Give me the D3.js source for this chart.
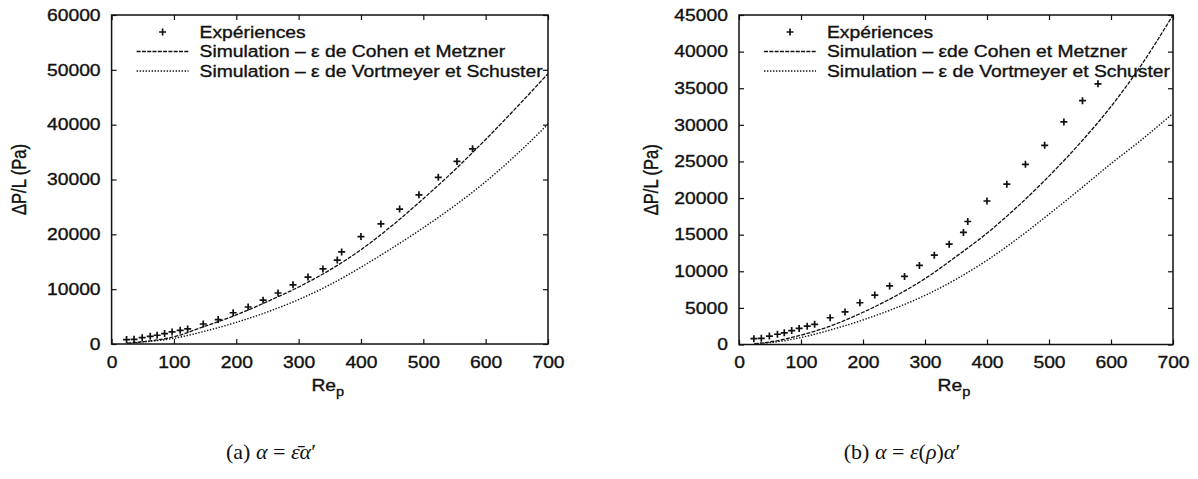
<!DOCTYPE html>
<html><head><meta charset="utf-8">
<script src="https://cdn.jsdelivr.net/npm/d3@7"></script>
<style>
body{margin:0;background:#fff;}
svg{display:block;}
text{font-family:"Liberation Sans",Arial,Helvetica,sans-serif;fill:#111;}
.sans{stroke:#111;stroke-width:0.35px;}
.cap{font-family:"Liberation Serif","DejaVu Serif",serif;}
</style></head>
<body><svg id="c" width="1198" height="479"></svg>
<script>
// ---- data ----
const xTicks = [0, 100, 200, 300, 400, 500, 600, 700];
const yTicksA = [0, 10000, 20000, 30000, 40000, 50000, 60000];
const yTicksB = [0, 5000, 10000, 15000, 20000, 25000, 30000, 35000, 40000, 45000];
const expRe = [24, 36, 49, 62, 73, 85, 97, 110, 122, 147, 171, 195, 219, 243, 267, 291, 315, 339, 362, 369, 400, 432, 462, 493, 524, 554, 579];
const expDP = [800, 850, 1150, 1400, 1600, 1900, 2200, 2500, 2750, 3650, 4450, 5700, 6750, 8000, 9300, 10800, 12200, 13700, 15300, 16800, 19600, 21900, 24600, 27200, 30400, 33300, 35600];
const simRe = [25, 50, 100, 150, 200, 250, 300, 350, 400, 450, 500, 550, 600, 650, 700];
const cohenA = [150, 420, 1320, 3250, 5300, 7750, 10400, 13500, 17200, 21600, 26500, 31700, 37300, 43200, 49300];
const vortA = [100, 350, 1040, 2350, 3950, 5850, 8100, 10800, 14000, 17500, 21200, 25200, 29600, 34600, 40100];
const cohenB = [100, 350, 1280, 2600, 4400, 6500, 9000, 12000, 15200, 18900, 23000, 27500, 32500, 38300, 45000];
const vortB = [80, 250, 950, 2050, 3350, 4900, 6700, 8900, 11500, 14500, 17800, 21200, 24700, 28000, 31570];
const legendA = ["Expériences", "Simulation – ε de Cohen et Metzner", "Simulation – ε de Vortmeyer et Schuster"];
const legendB = ["Expériences", "Simulation – εde Cohen et Metzner", "Simulation – ε de Vortmeyer et Schuster"];
const xTitle = "Re", xSub = "p", yTitle = "ΔP/L (Pa)";

const S = 1.17;   // horizontal stretch of the printed lettering
const svg = d3.select("#c");
svg.append("rect").attr("width",1198).attr("height",479).attr("fill","#fff");
const ink = "#111";

function stretch(sel){
  sel.each(function(){
    const t = d3.select(this), x = +t.attr("x") || 0;
    t.attr("transform", `translate(${x*(1-S)},0) scale(${S},1)`);
  });
}

function panel(cfg){
  const g = svg.append("g");
  const x = d3.scaleLinear().domain([0,700]).range([cfg.x0, cfg.x1]);
  const y = d3.scaleLinear().domain([0, cfg.ymax]).range([cfg.yb, cfg.yt]);
  const ax = (gen, tx, ty) => {
    const a = g.append("g").attr("transform",`translate(${tx},${ty})`).call(gen);
    a.select(".domain").remove();
    a.selectAll(".tick line").attr("stroke",ink).attr("stroke-width",1.2);
    a.selectAll("text").attr("class","sans").attr("font-size",16.5).attr("fill",ink)
      .attr("font-family",'"Liberation Sans",Arial,sans-serif');
    stretch(a.selectAll("text"));
    return a;
  };
  ax(d3.axisBottom(x).tickValues(xTicks).tickSizeInner(-5).tickSizeOuter(0).tickPadding(12).tickFormat(d3.format("d")), 0, cfg.yb);
  ax(d3.axisTop(x).tickValues(xTicks).tickSizeInner(-5).tickSizeOuter(0).tickFormat(""), 0, cfg.yt);
  ax(d3.axisLeft(y).tickValues(cfg.yTicks).tickSizeInner(-5).tickSizeOuter(0).tickPadding(11).tickFormat(d3.format("d")), cfg.x0, 0);
  ax(d3.axisRight(y).tickValues(cfg.yTicks).tickSizeInner(-5).tickSizeOuter(0).tickFormat(""), cfg.x1, 0);
  g.append("rect").attr("x",cfg.x0).attr("y",cfg.yt).attr("width",cfg.x1-cfg.x0).attr("height",cfg.yb-cfg.yt)
    .attr("fill","none").attr("stroke",ink).attr("stroke-width",1.5);
  // titles
  const xt = g.append("text").attr("class","sans").attr("x",(cfg.x0+cfg.x1)/2 - 2).attr("y",391).attr("font-size",16.5).attr("text-anchor","middle");
  xt.append("tspan").text(xTitle);
  xt.append("tspan").attr("font-size",12.5).attr("dy",5).text(xSub);
  stretch(xt);
  g.append("text").attr("class","sans").attr("transform",`translate(${cfg.ytx},${(cfg.yt+cfg.yb)/2}) scale(${S},1) rotate(-90)`)
    .attr("font-size",16.5).attr("text-anchor","middle").attr("dy","0.35em").text(yTitle);
  // curves
  const clip = "clip"+cfg.id;
  svg.append("clipPath").attr("id",clip).append("rect").attr("x",cfg.x0).attr("y",cfg.yt).attr("width",cfg.x1-cfg.x0).attr("height",cfg.yb-cfg.yt);
  const line = d3.line().x(d=>x(d[0])).y(d=>y(d[1])).curve(d3.curveMonotoneX);
  g.append("path").attr("d",line(simRe.map((r,i)=>[r,cfg.cohen[i]]))).attr("clip-path",`url(#${clip})`)
    .attr("fill","none").attr("stroke",ink).attr("stroke-width",1.3).attr("stroke-dasharray","4,1.3");
  g.append("path").attr("d",line(simRe.map((r,i)=>[r,cfg.vort[i]]))).attr("clip-path",`url(#${clip})`)
    .attr("fill","none").attr("stroke",ink).attr("stroke-width",1.4).attr("stroke-dasharray","1.4,1.6");
  const plus = (px,py)=> g.append("path").attr("d",`M${px-3.5},${py}h7M${px},${py-3.5}v7`).attr("stroke",ink).attr("stroke-width",1.7);
  expRe.forEach((r,i)=>plus(x(r), y(expDP[i])));
  // legend
  const lx = cfg.x0 + 88, rows = [32, 51.5, 71];
  cfg.legend.forEach((t,i)=>{
    stretch(g.append("text").attr("class","sans").attr("x",lx).attr("y",rows[i]+5.8).attr("font-size",16.5).text(t));
  });
  plus(lx-37, rows[0]);
  g.append("line").attr("x1",lx-63).attr("x2",lx-11).attr("y1",rows[1]).attr("y2",rows[1]).attr("stroke",ink).attr("stroke-width",1.3).attr("stroke-dasharray","4,1.3");
  g.append("line").attr("x1",lx-63).attr("x2",lx-11).attr("y1",rows[2]).attr("y2",rows[2]).attr("stroke",ink).attr("stroke-width",1.4).attr("stroke-dasharray","1.4,1.6");
}

panel({id:"a", x0:111.6, x1:548, yb:344, yt:15, ymax:60000, yTicks:yTicksA, cohen:cohenA, vort:vortA, legend:legendA, ytx:19});
panel({id:"b", x0:739, x1:1173, yb:344.5, yt:15, ymax:45000, yTicks:yTicksB, cohen:cohenB, vort:vortB, legend:legendB, ytx:651});

function caption(cx, parts){
  const t = svg.append("text").attr("class","cap").attr("x",cx).attr("y",459).attr("font-size",22).attr("text-anchor","middle");
  parts.forEach(p=>{ const s=t.append("tspan").text(p[0]); if(p[1]) s.attr("font-style","italic"); });
}
caption(271, [["(a) "],["α",1],[" = "],["ε\u0304",1],["α",1],["′"]]);
caption(902, [["(b) "],["α",1],[" = "],["ε",1],["("],["ρ",1],[")"],["α",1],["′"]]);
</script></body></html>
